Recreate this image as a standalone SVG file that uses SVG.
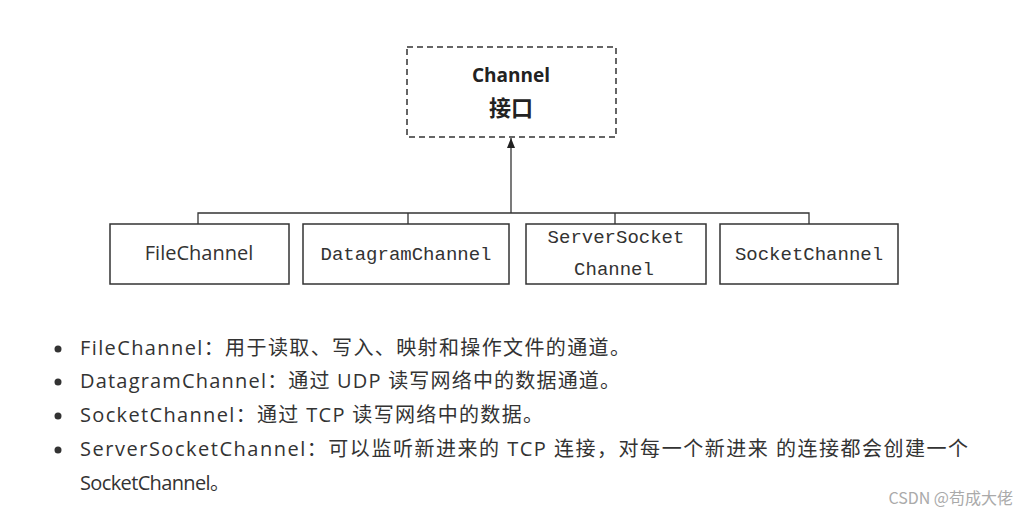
<svg xmlns="http://www.w3.org/2000/svg" width="1029" height="518" viewBox="0 0 1029 518">
<style>
.box{fill:#fff;stroke:#333;stroke-width:1.5}
.mono{font-family:"Liberation Mono",monospace;font-size:19px;fill:#333;text-anchor:middle}
.txt{font-family:"Open Sans","Noto Sans CJK SC",sans-serif;font-size:20px;fill:#333}
.ln{stroke:#333;stroke-width:1.3;fill:none}
</style>
<defs><marker id="ah" markerWidth="10" markerHeight="8" refX="10" refY="4" orient="auto" markerUnits="userSpaceOnUse"><path d="M0,0 L10,4 L0,8 Z" fill="#222"/></marker></defs>
<rect width="1029" height="518" fill="#fff"/>
<g id="connectors">
<path class="ln" d="M511,213 V138" marker-end="url(#ah)"/>
<path class="ln" d="M198,224 V213 H809 V224 M408,213 V224 M615,213 V224"/>
</g>
<g id="channel"><rect x="407" y="47" width="209" height="90" fill="#fff" stroke="#333" stroke-width="1.5" stroke-dasharray="6,4"/>
<text x="511" y="82" text-anchor="middle" font-family="'Open Sans','Noto Sans CJK SC',sans-serif" font-weight="bold" font-size="19" fill="#222">Channel</text>
<text x="511" y="116" text-anchor="middle" font-family="'Noto Sans CJK SC',sans-serif" font-weight="bold" font-size="22" fill="#222">接口</text></g>
<g id="file"><rect class="box" x="110" y="224" width="179" height="60"/><text x="199" y="260" text-anchor="middle" font-family="'Open Sans',sans-serif" font-size="20" fill="#333">FileChannel</text></g>
<g id="datagram"><rect class="box" x="303" y="224" width="206" height="60"/><text class="mono" x="406" y="260">DatagramChannel</text></g>
<g id="server"><rect class="box" x="526" y="224" width="180" height="60"/><text class="mono" x="616" y="243">ServerSocket</text><text class="mono" x="614" y="275">Channel</text></g>
<g id="socket"><rect class="box" x="720" y="224" width="178" height="60"/><text class="mono" x="809" y="260">SocketChannel</text></g>
<g fill="#333"><circle cx="58" cy="349" r="3.5"/><circle cx="58" cy="382" r="3.5"/><circle cx="58" cy="416" r="3.5"/><circle cx="58" cy="450" r="3.5"/></g>
<text class="txt" x="80" y="355" textLength="550" lengthAdjust="spacing">FileChannel：用于读取、写入、映射和操作文件的通道。</text>
<text class="txt" x="80" y="388" textLength="540" lengthAdjust="spacing">DatagramChannel：通过 UDP 读写网络中的数据通道。</text>
<text class="txt" x="80" y="422" textLength="463" lengthAdjust="spacing">SocketChannel：通过 TCP 读写网络中的数据。</text>
<text class="txt" x="80" y="456" textLength="888" lengthAdjust="spacing">ServerSocketChannel：可以监听新进来的 TCP 连接，对每一个新进来 的连接都会创建一个</text>
<text class="txt" x="80" y="490" textLength="150" lengthAdjust="spacing">SocketChannel。</text>
<text x="1013" y="504" text-anchor="end" font-family="'Noto Sans CJK SC',sans-serif" font-size="16" fill="#aaa">CSDN @苟成大佬</text>
</svg>
